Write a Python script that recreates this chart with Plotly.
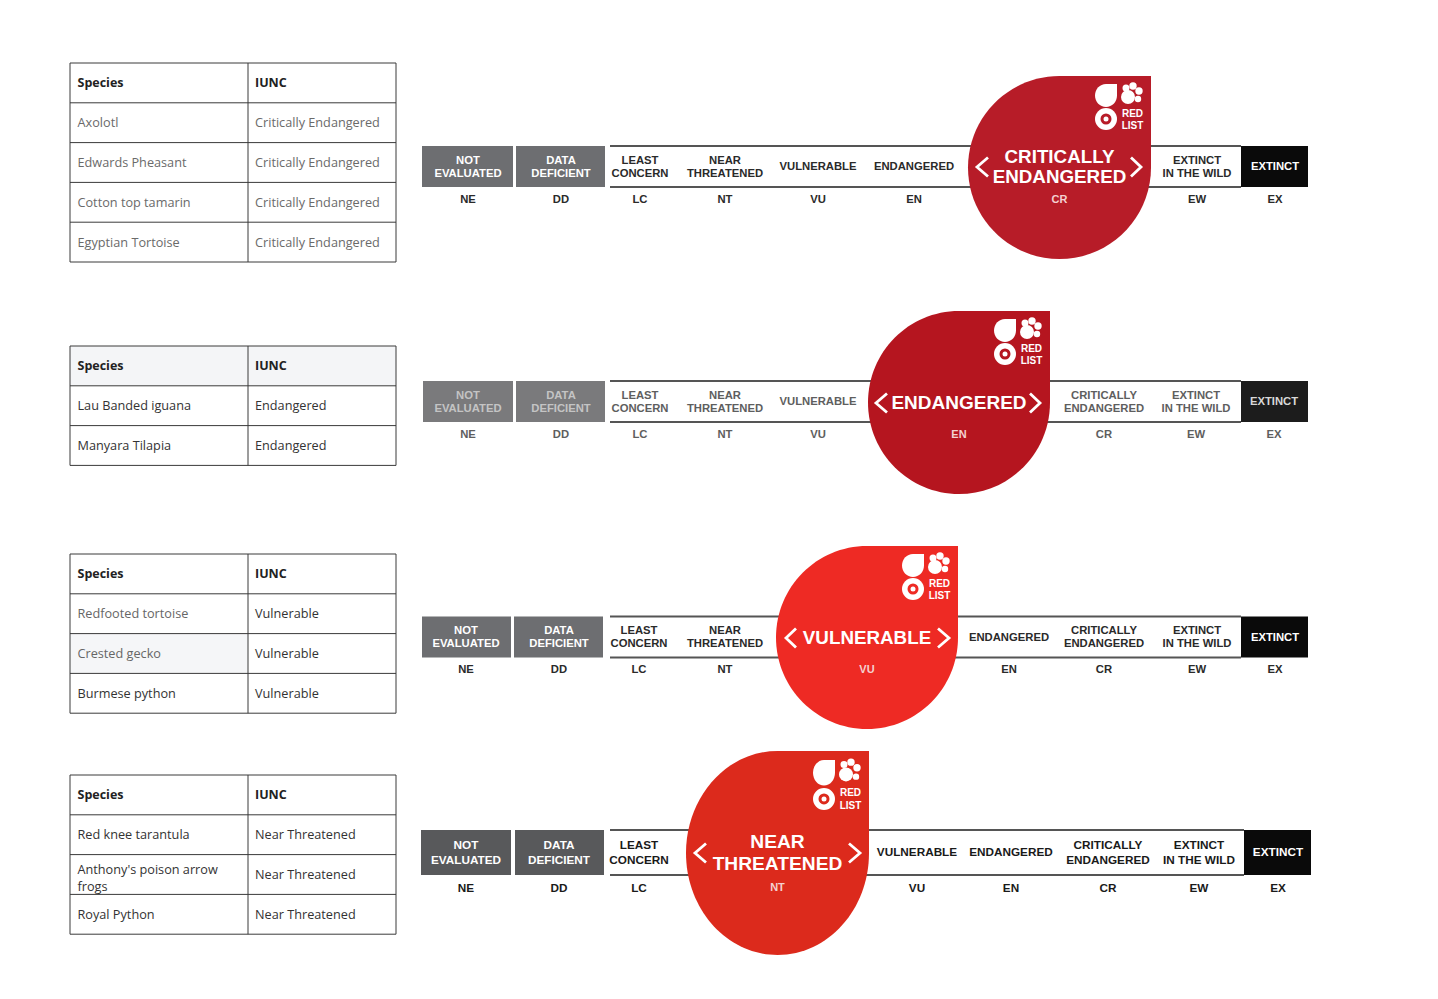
import plotly.graph_objects as go

# ---------- data ----------
table_headers = ["Species", "IUNC"]
species_cr = ["Axolotl", "Edwards Pheasant", "Cotton top tamarin", "Egyptian Tortoise"]
species_en = ["Lau Banded iguana", "Manyara Tilapia"]
species_vu = ["Redfooted tortoise", "Crested gecko", "Burmese python"]
species_nt = ["Red knee tarantula", "Anthony's poison arrow<br>frogs", "Royal Python"]
status_cr = "Critically Endangered"
status_en = "Endangered"
status_vu = "Vulnerable"
status_nt = "Near Threatened"

codes = ["NE", "DD", "LC", "NT", "VU", "EN", "CR", "EW", "EX"]
labels = {
    "NE": ["NOT", "EVALUATED"], "DD": ["DATA", "DEFICIENT"], "LC": ["LEAST", "CONCERN"],
    "NT": ["NEAR", "THREATENED"], "VU": ["VULNERABLE"], "EN": ["ENDANGERED"],
    "CR": ["CRITICALLY", "ENDANGERED"], "EW": ["EXTINCT", "IN THE WILD"], "EX": ["EXTINCT"],
}

# ---------- layout (pixels of the page) ----------
W, H = 1438, 999
TX0, TX1, TX2 = 70, 248, 396
ROW_H = 39.8
TEXT_ROW_H = 40
tables = [
    dict(top=63, rows=species_cr, status=status_cr, colors=["#6a6a6a"]*4, status_color="#6a6a6a", head_fill=None, fills={}),
    dict(top=346, rows=species_en, status=status_en, colors=["#333"]*2, status_color="#333", head_fill="#f4f5f7", fills={}),
    dict(top=554, rows=species_vu, status=status_vu, colors=["#666", "#666", "#333"], status_color="#333", head_fill=None, fills={1: "#f5f6f8"}),
    dict(top=775, rows=species_nt, status=status_nt, colors=["#333"]*3, status_color="#333", head_fill=None, fills={}),
]
panels = [
    dict(code="CR", cy=166.5, half=20.5, abbr=199, ne=(422, 513), dd=(516, 605), line0=610, ex=(1241, 1308),
         drop=(968, 1151, 76, 259), color="#b71c28", grey="#6d6e71", ink="#2a2a2a", exfill="#0a0a0a", soft="white", softex="white",
         centers=dict(NE=468, DD=561, LC=640, NT=725, VU=818, EN=914, EW=1197, EX=1275),
         title=["CRITICALLY", "ENDANGERED"], tsize=18.8, tgap=20, tcy=166, tabbr=199, chev=(976, 988, 1131, 1142), fs=12),
    dict(code="EN", cy=401.5, half=20.5, abbr=434, ne=(423, 513), dd=(516, 605), line0=610, ex=(1241, 1308),
         drop=(868, 1050, 311, 494), color="#b5151f", grey="#7a7a7c", ink="#5e5e5e", exfill="#1c1c1c", soft="#c4c4c4", softex="#d8d8d8",
         centers=dict(NE=468, DD=561, LC=640, NT=725, VU=818, CR=1104, EW=1196, EX=1274),
         title=["ENDANGERED"], tsize=19, tgap=20, tcy=402, tabbr=434, chev=(875, 887, 1030, 1041), fs=12),
    dict(code="VU", cy=637, half=20.5, abbr=669, ne=(422, 511), dd=(514, 603), line0=610, ex=(1241, 1308),
         drop=(776, 958, 546, 729), color="#ee2a24", grey="#6d6e71", ink="#2a2a2a", exfill="#0a0a0a", soft="white", softex="white",
         centers=dict(NE=466, DD=559, LC=639, NT=725, EN=1009, CR=1104, EW=1197, EX=1275),
         title=["VULNERABLE"], tsize=18.8, tgap=20, tcy=637, tabbr=669, chev=(785, 796, 938, 950), fs=12),
    dict(code="NT", cy=852.5, half=22.5, abbr=888, ne=(421, 511), dd=(515, 604), line0=610, ex=(1244, 1311),
         drop=(686, 869, 751, 955), color="#dc2a1c", grey="#58595b", ink="#1a1a1a", exfill="#0a0a0a", soft="white", softex="white",
         centers=dict(NE=466, DD=559, LC=639, VU=917, EN=1011, CR=1108, EW=1199, EX=1278),
         title=["NEAR", "THREATENED"], tsize=19.2, tgap=22, tcy=852, tabbr=887, chev=(694, 706, 849, 861), fs=12.5),
]

shapes = []

def rect(x0, y0, x1, y1, fill=None, line=None, lw=1):
    shapes.append(dict(type="rect", x0=x0, y0=y0, x1=x1, y1=y1, layer="below",
                       fillcolor=fill or "rgba(0,0,0,0)",
                       line=dict(color=line or "rgba(0,0,0,0)", width=lw if line else 0)))

def seg(x0, y0, x1, y1, color, lw):
    shapes.append(dict(type="line", x0=x0, y0=y0, x1=x1, y1=y1, layer="below", line=dict(color=color, width=lw)))

def circle(cx, cy, r, fill):
    shapes.append(dict(type="circle", x0=cx-r, x1=cx+r, y0=cy-r, y1=cy+r, layer="below",
                       fillcolor=fill, line=dict(width=0)))

def drop_path(x0, x1, y0, y1, fill):
    cx, cy = (x0+x1)/2, (y0+y1)/2
    k = 0.5523
    rx, ry = (x1-x0)/2, (y1-y0)/2
    p = (f"M {cx} {y0} L {x1} {y0} L {x1} {cy} "
         f"C {x1} {cy+k*ry} {cx+k*rx} {y1} {cx} {y1} "
         f"C {cx-k*rx} {y1} {x0} {cy+k*ry} {x0} {cy} "
         f"C {x0} {cy-k*ry} {cx-k*rx} {y0} {cx} {y0} Z")
    shapes.append(dict(type="path", path=p, layer="below", fillcolor=fill, line=dict(width=0)))

txt = []  # x, y, text, size, color, bold, family, anchor

def add_text(x, y, s, size, color, bold=True, family="Liberation Sans", pos="middle center"):
    txt.append((x, y, s, size, color, bold, family, pos))

# ---------- tables ----------
TFONT = "Open Sans"
for t in tables:
    top = t["top"]
    n = len(t["rows"]) + 1
    bottom = top + n*ROW_H
    if t["head_fill"]:
        rect(TX0, top, TX2, top+ROW_H, fill=t["head_fill"])
    for i, f in t["fills"].items():
        rect(TX0, top+(i+1)*ROW_H, TX1, top+(i+2)*ROW_H, fill=f)
    rect(TX0, top, TX2, bottom, line="#3a3a3a", lw=1)
    seg(TX1, top, TX1, bottom, "#3a3a3a", 1)
    for r in range(1, n):
        seg(TX0, top+r*ROW_H, TX2, top+r*ROW_H, "#3a3a3a", 1)
    ym = top + TEXT_ROW_H/2 + 1
    add_text(TX0+7.5, ym, table_headers[0], 12.5, "#222", True, TFONT, "middle right")
    add_text(TX1+7, ym, table_headers[1], 12.5, "#222", True, TFONT, "middle right")
    for i, s in enumerate(t["rows"]):
        y = top + (i+1.5)*TEXT_ROW_H + 1
        extra = 3.5 if "<br>" in s else 0
        add_text(TX0+7.5, y+extra, s, 12.7, t["colors"][i], False, TFONT, "middle right")
        add_text(TX1+7, y, t["status"], 12.7, t["status_color"], False, TFONT, "middle right")

# ---------- status panels ----------
for p in panels:
    cy, h = p["cy"], p["half"]
    top, bot = cy-h, cy+h
    rect(p["ne"][0], top, p["ne"][1], bot, fill=p["grey"])
    rect(p["dd"][0], top, p["dd"][1], bot, fill=p["grey"])
    seg(p["line0"], top, p["ex"][0], top, "#555", 2)
    seg(p["line0"], bot, p["ex"][0], bot, "#555", 2)
    rect(p["ex"][0], top, p["ex"][1], bot, fill=p["exfill"])
    x0, x1, y0, y1 = p["drop"]
    drop_path(x0, x1, y0, y1, p["color"])
    sy = (y1-y0)/183
    # logo: small drop, paw, ring, words
    drop_path(x1-56, x1-34, y0+8*sy, y0+31*sy, "white")
    for dx, dy, r in [(-23, 21, 7), (-25, 12, 3.5), (-18, 10, 3.7), (-12, 15, 3.7), (-13, 23, 3.2)]:
        circle(x1+dx, y0+dy*sy, r, "white")
    rcy = y0+43*sy
    circle(x1-45, rcy, 11, "white")
    circle(x1-45, rcy, 5.5, p["color"])
    circle(x1-45, rcy, 2.5, "white")
    add_text(x1-18.5, y0+37.5*sy+1, "RED", 10, "white")
    add_text(x1-18.5, y0+49*sy+1, "LIST", 10, "white")
    # chevrons
    a, b, c, d = p["chev"]
    tc = p["tcy"] + 1
    ch = dict(type="path", layer="below", line=dict(color="white", width=2.8))
    shapes.append({**ch, "path": f"M {b} {tc-9.5} L {a+1} {tc} L {b} {tc+9.5}"})
    shapes.append({**ch, "path": f"M {c} {tc-9.5} L {d-1} {tc} L {c} {tc+9.5}"})
    # big title and code on the drop
    cx = (x0+x1)/2
    n = len(p["title"])
    for i, line in enumerate(p["title"]):
        add_text(cx, p["tcy"]+2+(i-(n-1)/2)*p["tgap"], line, p["tsize"], "white")
    add_text(cx, p["tabbr"]+1, p["code"], 11, "#f4d0d0")
    # the other categories
    for code, x in p["centers"].items():
        lines = labels[code]
        col = p["soft"] if code in ("NE", "DD") else p["softex"] if code == "EX" else p["ink"]
        m = len(lines)
        for i, line in enumerate(lines):
            add_text(x, cy+1+(i-(m-1)/2)*(p["half"]*0.64), line, p["fs"]*0.94, col)
        add_text(x, p["abbr"]+1, code, p["fs"]*0.94, p["ink"])

fig = go.Figure()
# group the words by font so each group is one text trace
keys = sorted({(t[6], t[7]) for t in txt})
for fam, pos in keys:
    rows = [t for t in txt if t[6] == fam and t[7] == pos]
    fig.add_trace(go.Scatter(
        x=[r[0] for r in rows], y=[r[1] for r in rows],
        text=[f"<b>{r[2]}</b>" if r[5] else r[2] for r in rows],
        mode="text", textposition=pos, hoverinfo="skip", showlegend=False,
        textfont=dict(family=fam, size=[r[3] for r in rows], color=[r[4] for r in rows]),
        cliponaxis=False,
    ))

fig.update_layout(
    width=W, height=H, margin=dict(l=0, r=0, t=0, b=0),
    paper_bgcolor="white", plot_bgcolor="white", showlegend=False, shapes=shapes,
    xaxis=dict(range=[0, W], visible=False, fixedrange=True),
    yaxis=dict(range=[H, 0], visible=False, fixedrange=True),
)
fig.write_html("out.html", config=dict(displayModeBar=False),
               post_script="document.body.style.margin='0';document.documentElement.style.overflow='hidden';")
